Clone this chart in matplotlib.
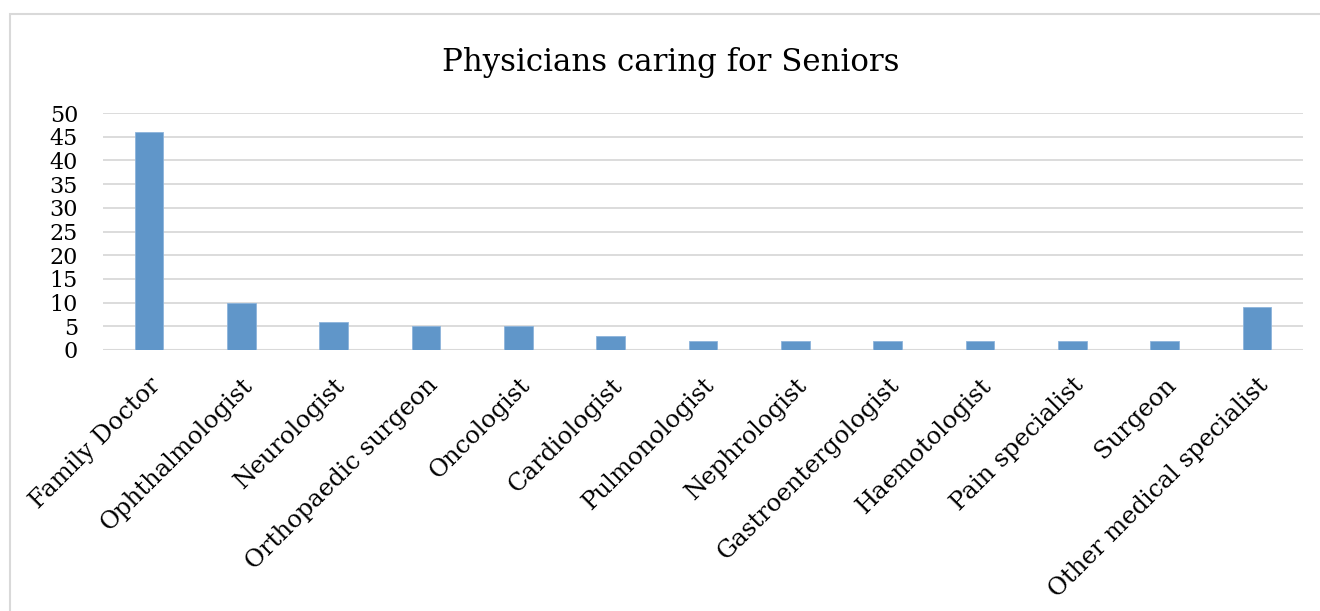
import matplotlib.pyplot as plt
from matplotlib.patches import Rectangle

# especialidades y numero de medicos
especialidades = ['Family Doctor', 'Ophthalmologist', 'Neurologist', 'Orthopaedic surgeon',
                  'Oncologist', 'Cardiologist', 'Pulmonologist', 'Nephrologist',
                  'Gastroentergologist', 'Haemotologist', 'Pain specialist', 'Surgeon',
                  'Other medical specialist']
medicos = [46, 10, 6, 5, 5, 3, 2, 2, 2, 2, 2, 2, 9]
yticks = [0, 5, 10, 15, 20, 25, 30, 35, 40, 45, 50]

plt.rcParams['font.family'] = ['DejaVu Serif']

fig = plt.figure(figsize=(13.2, 6.11), dpi=100)
ax = fig.add_axes([103 / 1320, 1 - 350 / 611, 1200 / 1320, 237 / 611])

# marco gris alrededor del grafico
fig.patches.append(Rectangle((10 / 1320, -0.05), 1.2, 1 - 14 / 611 + 0.05,
                             transform=fig.transFigure, fill=False,
                             edgecolor='#d9d9d9', linewidth=1.5))

x = range(len(especialidades))
ax.bar(x, medicos, width=0.31, color='#6096c9', edgecolor='#8db4db', linewidth=0.6, zorder=3)

ax.set_xlim(-0.5, len(especialidades) - 0.5)
ax.set_ylim(0, 50)
ax.set_yticks(yticks)
ax.yaxis.grid(True, color='#d9d9d9', linewidth=1.3, zorder=0)
ax.axhline(0, color='#d9d9d9', linewidth=1.5, zorder=2)
ax.set_xticks(list(x))
ax.set_xticklabels(especialidades, rotation=45, ha='right', va='top',
                   rotation_mode='anchor', fontsize=17.5)
ax.tick_params(axis='y', labelsize=16, length=0, pad=18)
ax.tick_params(axis='x', length=0, pad=17)
for s in ax.spines.values():
    s.set_visible(False)

fig.text(671 / 1320, 1 - 62 / 611, 'Physicians caring for Seniors',
         ha='center', va='center', fontsize=22.2)

fig.savefig('out.png', dpi=100)
